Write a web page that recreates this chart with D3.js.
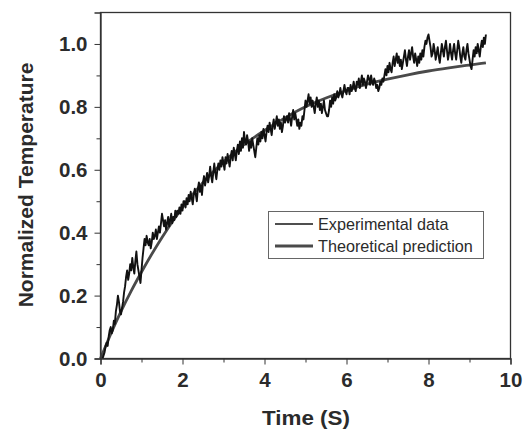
<!DOCTYPE html>
<html>
<head>
<meta charset="utf-8">
<script src="https://cdn.jsdelivr.net/npm/d3@7"></script>
<style>
  body { margin: 0; background: #fff; }
  svg text { font-family: "Liberation Sans", Arial, sans-serif; fill: #2b2b2b; }
  .axis path, .axis line { stroke: #333; }
  .axis text { font-size: 20.5px; font-weight: bold; }
</style>
</head>
<body>
<div id="viz"></div>
<script>
// theoretical curve
const theoryT = [0, 0.25, 0.5, 0.75, 1, 1.5, 2, 2.5, 3, 3.5, 4, 4.5, 5, 5.5, 6, 6.5, 7, 7.5, 8, 8.5, 9, 9.4];
const theoryY = [0, 0.078, 0.15, 0.215, 0.275, 0.385, 0.48, 0.56, 0.625, 0.68, 0.725, 0.765, 0.80, 0.828, 0.852, 0.872, 0.888, 0.902, 0.914, 0.924, 0.933, 0.94];

// experimental trace, sampled every 0.025 s starting at 0.05 s
const expStart = 0.05;
const expStep = 0.025;
const expY = [
  0.00, 0.01, 0.02, 0.04, 0.05, 0.04, 0.07, 0.09, 0.10, 0.08, 0.09, 0.12, 0.11, 0.15, 0.17, 0.20, 0.18, 0.15, 0.14, 0.16,
  0.18, 0.21, 0.23, 0.26, 0.28, 0.25, 0.27, 0.30, 0.28, 0.32, 0.29, 0.27, 0.31, 0.34, 0.30, 0.28, 0.26, 0.24, 0.28, 0.32,
  0.35, 0.38, 0.36, 0.39, 0.37, 0.36, 0.38, 0.35, 0.37, 0.40, 0.38, 0.39, 0.41, 0.38, 0.40, 0.42, 0.40, 0.43, 0.46, 0.44,
  0.42, 0.44, 0.41, 0.43, 0.45, 0.42, 0.44, 0.46, 0.43, 0.45, 0.44, 0.47, 0.45, 0.47, 0.46, 0.48, 0.46, 0.49, 0.47, 0.50,
  0.50, 0.48, 0.51, 0.49, 0.52, 0.50, 0.53, 0.51, 0.49, 0.52, 0.54, 0.52, 0.50, 0.54, 0.56, 0.53, 0.55, 0.52, 0.56, 0.58,
  0.55, 0.57, 0.59, 0.56, 0.58, 0.61, 0.58, 0.56, 0.59, 0.62, 0.59, 0.57, 0.60, 0.62, 0.60, 0.63, 0.61, 0.64, 0.62, 0.60,
  0.64, 0.62, 0.65, 0.63, 0.61, 0.64, 0.66, 0.63, 0.67, 0.65, 0.63, 0.66, 0.68, 0.65, 0.69, 0.66, 0.70, 0.67, 0.72, 0.69,
  0.68, 0.71, 0.69, 0.66, 0.69, 0.67, 0.70, 0.68, 0.66, 0.64, 0.67, 0.70, 0.68, 0.71, 0.69, 0.72, 0.70, 0.73, 0.71, 0.69,
  0.72, 0.74, 0.72, 0.75, 0.73, 0.71, 0.74, 0.76, 0.73, 0.75, 0.77, 0.74, 0.76, 0.73, 0.75, 0.72, 0.74, 0.77, 0.75, 0.76,
  0.77, 0.75, 0.78, 0.76, 0.74, 0.77, 0.79, 0.76, 0.78, 0.76, 0.74, 0.76, 0.73, 0.75, 0.74, 0.77, 0.76, 0.79, 0.82, 0.80,
  0.82, 0.84, 0.81, 0.83, 0.80, 0.82, 0.80, 0.78, 0.81, 0.83, 0.80, 0.82, 0.79, 0.81, 0.78, 0.80, 0.82, 0.79, 0.78, 0.77,
  0.77, 0.79, 0.82, 0.80, 0.83, 0.81, 0.84, 0.82, 0.83, 0.85, 0.83, 0.84, 0.86, 0.84, 0.83, 0.85, 0.87, 0.85, 0.84, 0.86,
  0.86, 0.84, 0.87, 0.85, 0.86, 0.88, 0.86, 0.85, 0.88, 0.87, 0.89, 0.86, 0.88, 0.90, 0.87, 0.89, 0.88, 0.86, 0.88, 0.90,
  0.89, 0.87, 0.90, 0.88, 0.87, 0.89, 0.88, 0.86, 0.87, 0.85, 0.86, 0.88, 0.87, 0.89, 0.88, 0.90, 0.92, 0.90, 0.93, 0.91,
  0.94, 0.92, 0.91, 0.94, 0.96, 0.93, 0.95, 0.97, 0.94, 0.96, 0.93, 0.95, 0.92, 0.94, 0.96, 0.98, 0.95, 0.93, 0.96, 0.98,
  0.95, 0.97, 0.99, 0.96, 0.94, 0.97, 0.95, 0.93, 0.96, 0.94, 0.97, 0.95, 0.98, 0.96, 0.99, 1.01, 1.00, 1.02, 1.03, 1.01,
  0.99, 0.96, 0.97, 1.00, 0.98, 0.95, 0.97, 0.99, 0.96, 0.94, 0.97, 1.00, 0.98, 0.96, 0.99, 1.01, 0.98, 0.95, 0.97, 1.00,
  0.97, 0.95, 0.98, 1.00, 0.97, 0.95, 0.98, 1.01, 0.99, 0.96, 0.94, 0.97, 0.99, 0.96, 0.95, 0.98, 1.00, 0.97, 0.95, 0.93,
  0.92, 0.95, 0.98, 0.96, 0.99, 0.97, 1.00, 0.98, 0.96, 0.99, 1.01, 0.99, 1.02, 1.00, 1.03
];

const xTicks = [0, 1, 2, 3, 4, 5, 6, 7, 8, 9, 10];
const yTicks = [0, 0.1, 0.2, 0.3, 0.4, 0.5, 0.6, 0.7, 0.8, 0.9, 1.0];
const legendLabels = ['Experimental data', 'Theoretical prediction'];

const width = 523;
const height = 429;
const margin = { top: 12.5, right: 12.5, bottom: 70.5, left: 100.5 };

const svg = d3.select('#viz')
  .append('svg')
  .attr('width', width)
  .attr('height', height);

const x = d3.scaleLinear()
  .domain([0, 10])
  .range([margin.left, width - margin.right]);

const y = d3.scaleLinear()
  .domain([0, 1.1])
  .range([358.5, margin.top]);

// frame
svg.append('rect')
  .attr('x', x(0))
  .attr('y', y(1.1))
  .attr('width', x(10) - x(0))
  .attr('height', y(0) - y(1.1))
  .attr('fill', 'none')
  .attr('stroke', '#333')
  .attr('stroke-width', 1.3);

// lines
const expData = expY.map((v, i) => [expStart + i * expStep, v]);
const theoryData = theoryT.map((t, i) => [t, theoryY[i]]);

const line = d3.line()
  .x(d => x(d[0]))
  .y(d => y(d[1]));

svg.append('path')
  .datum(theoryData)
  .attr('fill', 'none')
  .attr('stroke', '#4a4a4a')
  .attr('stroke-width', 2.8)
  .attr('d', line.curve(d3.curveMonotoneX));

svg.append('path')
  .datum(expData)
  .attr('fill', 'none')
  .attr('stroke', '#111')
  .attr('stroke-width', 1.9)
  .attr('stroke-linejoin', 'round')
  .attr('d', line.curve(d3.curveLinear));

// axes
const xAxis = d3.axisBottom(x)
  .tickValues(xTicks)
  .tickSize(6)
  .tickPadding(8)
  .tickFormat(d => d % 2 === 0 ? d : '');

const gx = svg.append('g')
  .classed('axis', true)
  .attr('transform', `translate(0, ${y(0)})`)
  .call(xAxis);
gx.selectAll('.tick line')
  .attr('y2', d => d % 2 === 0 ? 6 : 4);

const yAxis = d3.axisLeft(y)
  .tickValues(yTicks)
  .tickSize(6)
  .tickPadding(7)
  .tickFormat((d, i) => i % 2 === 0 ? d3.format('.1f')(d) : '');

const gy = svg.append('g')
  .classed('axis', true)
  .attr('transform', `translate(${x(0)}, 0)`)
  .call(yAxis);
gy.selectAll('.tick line')
  .attr('x2', (d, i) => i % 2 === 0 ? -6 : -4);

svg.selectAll('.axis .domain').attr('stroke-width', 1.3);

// axis titles
svg.append('text')
  .attr('x', 262)
  .attr('y', 425)
  .attr('font-size', 20)
  .attr('font-weight', 'bold')
  .attr('textLength', 88)
  .attr('lengthAdjust', 'spacingAndGlyphs')
  .text('Time (S)');

svg.append('text')
  .attr('transform', 'translate(33, 185) rotate(-90)')
  .attr('text-anchor', 'middle')
  .attr('font-size', 21)
  .attr('font-weight', 'bold')
  .text('Normalized Temperature');

// legend
const legend = svg.append('g');
legend.append('rect')
  .attr('x', 268.5)
  .attr('y', 211.5)
  .attr('width', 215)
  .attr('height', 47)
  .attr('fill', '#fff')
  .attr('stroke', '#666')
  .attr('stroke-width', 1);

legendLabels.forEach((label, i) => {
  const ly = 224 + i * 22;
  legend.append('line')
    .attr('x1', 275)
    .attr('x2', 313)
    .attr('y1', ly)
    .attr('y2', ly)
    .attr('stroke', i === 0 ? '#151515' : '#4a4a4a')
    .attr('stroke-width', i === 0 ? 1.3 : 2.8);
  legend.append('text')
    .attr('x', 318)
    .attr('y', ly + 6)
    .attr('font-size', 16.2)
    .text(label);
});
</script>
</body>
</html>
